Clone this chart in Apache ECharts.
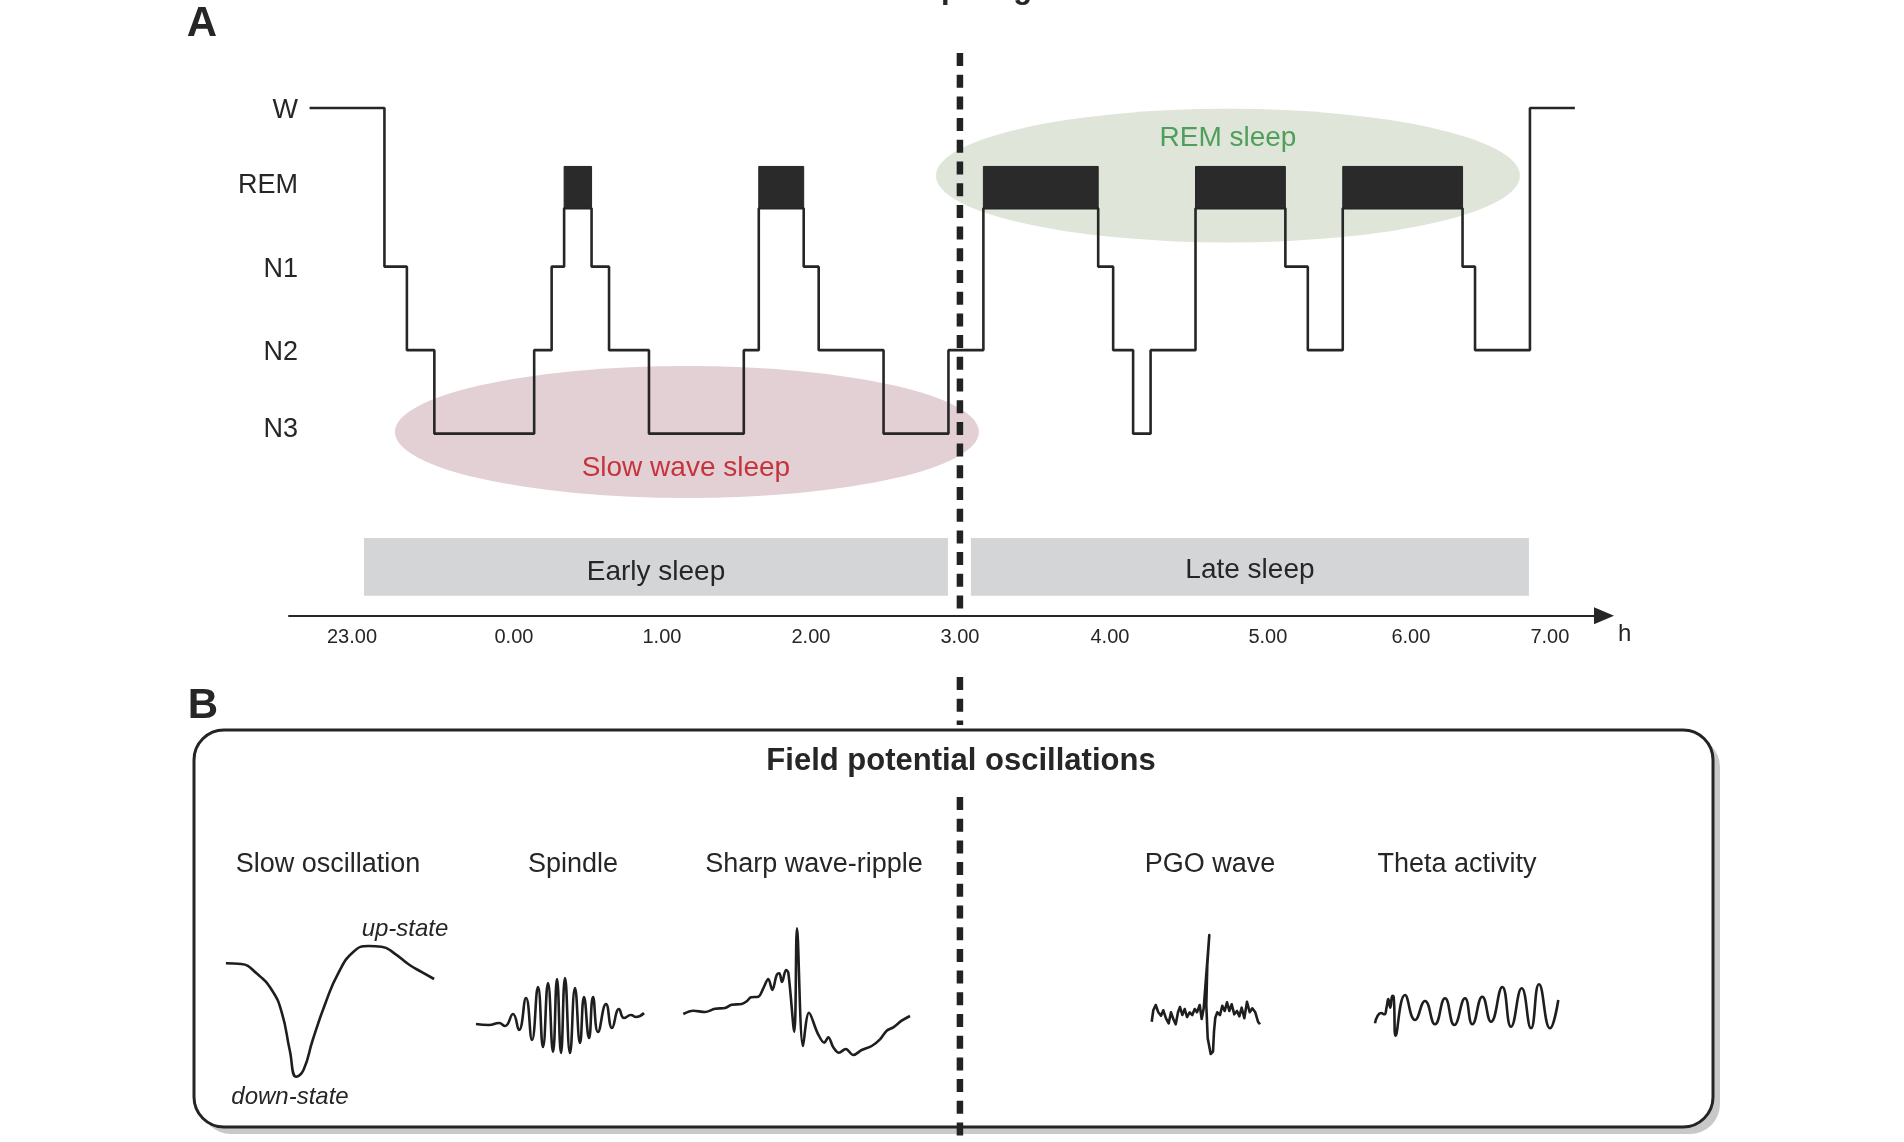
<!DOCTYPE html>
<html lang="en">
<head>
<meta charset="utf-8">
<title>Sleep stages</title>
<style>
  html, body { margin: 0; padding: 0; background: #fff; }
  #chart { width: 1904px; height: 1142px; }
</style>
</head>
<body>
<div id="chart"></div>
<script src="https://cdn.jsdelivr.net/npm/echarts@6.0.0/dist/echarts.min.js"></script>
<script>
// time axis, minutes after 23.00 (tick spacing as drawn in the figure)
var tickPos = [0, 64.9, 124.2, 183.9, 243.6, 303.7, 367.0, 424.3, 480];
var tickLabels = ['23.00', '0.00', '1.00', '2.00', '3.00', '4.00', '5.00', '6.00', '7.00'];

// stages, depth grows downwards
var stageNames = ['W', 'REM', 'N1', 'N2', 'N3'];
var stageLabelPos = [0.03, 0.93, 1.94, 2.93, 3.85];
var stageDepth = { W: 0, REM: 1.2, N1: 1.9, N2: 2.9, N3: 3.9 };
var remTop = 0.7;

// hypnogram: [stage, start minute]
var hypno = [
    ['W', -17], ['N1', 13], ['N2', 22], ['N3', 33], ['N2', 73], ['N1', 80], ['REM', 85],
    ['N1', 96], ['N2', 103], ['N3', 119], ['N2', 157], ['REM', 163], ['N1', 181], ['N2', 187],
    ['N3', 213], ['N2', 239], ['REM', 253], ['N1', 299], ['N2', 305], ['N3', 313], ['N2', 320],
    ['REM', 338], ['N1', 374], ['N2', 383], ['REM', 397], ['N1', 445], ['N2', 450], ['W', 472]
];
var hypnoEnd = 490;

// shaded zones (ellipses): centre [min, depth], radius [min, depth]
var zoneNames = ['Slow wave sleep', 'REM sleep'];
var zoneCenter = [[134.2, 3.88], [351.0, 0.81]];
var zoneRadius = [[117, 0.79], [117, 0.80]];
var zoneTextPos = [[133.8, 4.32], [351.0, 0.36]];

// early / late sleep bars: [name, from, to]
var periods = [['Early sleep', 4.8, 238.8], ['Late sleep', 248.0, 471.6]];
var periodDepth = [5.15, 5.84];

// vertical dashed line at 3.00, page pixels of its pieces
var dashAt = 243.6;
var dashPieces = [[53, 615], [677, 725], [797, 1142]];

// field potential traces, [x, y] (y downwards)
var slowWave = [[5.9, 23.3], [21.2, 24], [36.5, 33.3], [51.8, 50], [62, 73.3], [69.7, 110], [76.3, 136.7],
    [83.5, 130], [92.7, 100], [105.4, 63.3], [118.2, 33.3], [133.5, 11.7], [148.8, 6], [161.5, 6.7],
    [174.3, 13.3], [189.6, 25], [202.3, 32.3], [214.1, 39]];
var spindleWave = [[6, 54], [19, 55], [29, 53], [35, 56], [43, 44], [49, 60], [56, 28], [62, 70], [68, 17],
    [73, 77], [78, 13], [83, 82], [87, 9], [91, 83], [95, 8], [100, 83], [105, 18], [110, 73], [114, 27],
    [119, 68], [123, 27], [128, 62], [136, 34], [142, 58], [149, 39], [154, 48], [161, 45], [166, 47], [174, 43]];
var rippleWave = [[8.3, 94], [18.3, 90.7], [30, 92], [40, 88.7], [50, 88], [56.7, 84.7], [66.7, 84], [71.7, 81.3],
    [76, 77.3], [83.3, 76.7], [88.3, 68.3], [93.3, 59], [97.3, 70], [101.7, 55], [104.3, 53.3], [107, 62],
    [111, 50], [113.3, 52.7], [119.3, 111.7], [122, 8.3], [128, 126], [134, 92.7], [142.7, 113.3],
    [149.3, 122.7], [153.3, 117.3], [158.3, 127.3], [164, 132.7], [170.7, 129], [178.3, 135], [186.7, 130],
    [196.7, 126], [205, 119.3], [211.7, 110.7], [218.3, 107.3], [226.7, 100.7], [235, 96]];
var pgoWave = [[11.7, 96.7], [13.3, 85.3], [15.7, 80], [18.3, 87.3], [21, 90.7], [23.3, 85.3], [26, 93.3],
    [28.7, 98.3], [31, 87.3], [33.3, 94], [35.7, 99.3], [38, 87.3], [40, 82], [42.3, 90], [44.7, 84], [47, 92],
    [49.7, 87.3], [52.3, 90], [54.7, 84], [57, 87.3], [59.7, 80], [61.7, 94], [63.7, 83.3], [69.3, 10],
    [67.3, 40], [66.3, 80], [67.7, 113.3], [70.7, 129], [73, 126.7], [74, 106.7], [75.3, 92.7], [77.3, 87.3],
    [80, 90], [82.3, 80.7], [84.7, 86], [87, 77.3], [89.3, 86], [91.7, 79.3], [94.3, 89.3], [97, 86],
    [99.3, 91.3], [101.7, 82.7], [104.3, 93.3], [107, 76.7], [109.7, 87.3], [112.3, 83.3], [115.3, 87.3],
    [118, 96.7], [120, 99.3]];
var thetaWave = [[10, 48.3], [12.7, 40.7], [16, 38], [19.3, 39.3], [21.7, 31.7], [23.3, 24], [25.3, 32.7],
    [27.3, 20.7], [28.7, 22], [30.7, 60.7], [40, 20], [50, 45], [60, 26], [70, 49.3], [80, 23.3], [89.3, 50],
    [100, 23.3], [107.3, 49.3], [117.3, 21.7], [126, 46.7], [137.3, 12], [146, 51.7], [156.7, 13.3],
    [166, 53.3], [174, 9.3], [185, 53.3], [193.3, 25]];

var waveNames = ['Slow oscillation', 'Spindle', 'Sharp wave-ripple', 'PGO wave', 'Theta activity'];
var waves = [slowWave, spindleWave, rippleWave, pgoWave, thetaWave];
var waveBox = [[220, 940, 220, 145], [470, 970, 180, 90], [675, 920, 245, 145], [1140, 925, 130, 140], [1365, 975, 200, 70]];
var waveSmooth = [0.5, 0.5, 0.35, false, 0.5];
var waveTitleX = [328, 573, 814, 1210, 1457];

var FONT = '"Liberation Sans", Arial, Helvetica, sans-serif';
var INK = '#262626';

// hypnogram corner points and REM blocks
var hypnoLine = [];
var remBlocks = [];
for (var i = 0; i < hypno.length; i++) {
    var t0 = hypno[i][1];
    var t1 = i + 1 < hypno.length ? hypno[i + 1][1] : hypnoEnd;
    var d = stageDepth[hypno[i][0]];
    hypnoLine.push([t0, d], [t1, d]);
    if (hypno[i][0] === 'REM') remBlocks.push([t0, t1]);
}

function nearestLabel(list, labels, v) {
    var best = 0;
    for (var k = 1; k < list.length; k++) {
        if (Math.abs(list[k] - v) < Math.abs(list[best] - v)) best = k;
    }
    return labels[best];
}

var chart = echarts.init(document.getElementById('chart'));

var grids = [
    { left: 289, top: 49.55, width: 1315, height: 566.13 },
    { left: 289, top: 0, width: 1315, height: 1142 }
];
var xAxes = [
    {
        gridIndex: 0, type: 'value', min: -25.24, max: 501.68,
        splitLine: { show: false }, axisTick: { show: false },
        axisLine: { show: true, onZero: false, symbol: ['none', 'triangle'], symbolSize: [17, 20],
            lineStyle: { color: INK, width: 2 } },
        axisLabel: { customValues: tickPos, margin: 12, color: INK, fontSize: 20, fontFamily: FONT,
            formatter: function (v) { return nearestLabel(tickPos, tickLabels, v); } },
        name: 'h', nameLocation: 'end', nameGap: 14,
        nameTextStyle: { color: INK, fontSize: 24, fontFamily: FONT, verticalAlign: 'top', padding: [7, 0, 0, 0] }
    },
    { gridIndex: 1, type: 'value', min: -25.24, max: 501.68, show: false }
];
var yAxes = [
    {
        gridIndex: 0, type: 'value', inverse: true, min: -0.7, max: 6.08,
        axisLine: { show: false }, axisTick: { show: false }, splitLine: { show: false },
        axisLabel: { customValues: stageLabelPos, margin: -9, color: INK, fontSize: 27, fontFamily: FONT,
            formatter: function (v) { return nearestLabel(stageLabelPos, stageNames, v); } }
    },
    { gridIndex: 1, type: 'value', inverse: true, min: 0, max: 1142, show: false }
];

var series = [
    {
        type: 'custom', xAxisIndex: 0, yAxisIndex: 0, z: 1, silent: true,
        data: zoneCenter.map(function (c, k) { return [c[0], c[1], zoneRadius[k][0], zoneRadius[k][1]]; }),
        renderItem: function (params, api) {
            var c = api.coord([api.value(0), api.value(1)]);
            var s = api.size([api.value(2), api.value(3)]);
            return {
                type: 'circle', x: c[0], y: c[1], scaleY: s[1] / s[0],
                shape: { cx: 0, cy: 0, r: s[0] },
                style: { fill: params.dataIndex === 0 ? '#e2d0d4' : '#dfe5d8' }
            };
        }
    },
    {
        type: 'custom', xAxisIndex: 0, yAxisIndex: 0, z: 1, silent: true,
        data: periods.map(function (p) { return [p[1], p[2]]; }),
        renderItem: function (params, api) {
            var a = api.coord([api.value(0), periodDepth[0]]);
            var b = api.coord([api.value(1), periodDepth[1]]);
            return {
                type: 'group', children: [
                    { type: 'rect', shape: { x: a[0], y: a[1], width: b[0] - a[0], height: b[1] - a[1] },
                        style: { fill: '#d4d5d6' } },
                    { type: 'text', x: (a[0] + b[0]) / 2, y: (a[1] + b[1]) / 2 + (params.dataIndex === 0 ? 5 : 3),
                        style: { text: periods[params.dataIndex][0], fill: INK, fontSize: 28, fontFamily: FONT,
                            align: 'center', verticalAlign: 'middle' } }
                ]
            };
        }
    },
    {
        type: 'line', xAxisIndex: 0, yAxisIndex: 0, z: 3, data: hypnoLine,
        showSymbol: false, silent: true, lineStyle: { color: INK, width: 2.6 }
    },
    {
        type: 'custom', xAxisIndex: 0, yAxisIndex: 0, z: 4, silent: true, data: remBlocks,
        renderItem: function (params, api) {
            var a = api.coord([api.value(0), remTop]);
            var b = api.coord([api.value(1), stageDepth.REM]);
            return { type: 'rect', shape: { x: a[0], y: a[1], width: b[0] - a[0], height: b[1] - a[1] },
                style: { fill: '#2a2a2a', stroke: INK, lineWidth: 1 } };
        }
    },
    {
        type: 'custom', xAxisIndex: 0, yAxisIndex: 0, z: 5, silent: true, data: zoneTextPos,
        renderItem: function (params, api) {
            var c = api.coord([api.value(0), api.value(1)]);
            return { type: 'text', x: c[0], y: c[1],
                style: { text: zoneNames[params.dataIndex], fill: params.dataIndex === 0 ? '#c5343c' : '#4f9f5c',
                    fontSize: 28, fontFamily: FONT, align: 'center', verticalAlign: 'middle' } };
        }
    },
    {
        type: 'custom', xAxisIndex: 1, yAxisIndex: 1, z: 6, silent: true,
        data: dashPieces.map(function (p) { return [dashAt, p[0], p[1]]; }),
        encode: { x: 0, y: [1, 2] },
        renderItem: function (params, api) {
            var a = api.coord([api.value(0), api.value(1)]);
            var b = api.coord([api.value(0), api.value(2)]);
            return { type: 'line', shape: { x1: a[0], y1: a[1], x2: b[0], y2: b[1] },
                style: { stroke: '#222', lineWidth: 6.5, lineDash: [13, 8.7] } };
        }
    }
];

waves.forEach(function (w, k) {
    var box = waveBox[k];
    var gi = grids.length;
    grids.push({ left: box[0], top: box[1], width: box[2], height: box[3] });
    xAxes.push({ gridIndex: gi, type: 'value', min: 0, max: box[2], show: false });
    yAxes.push({ gridIndex: gi, type: 'value', min: 0, max: box[3], inverse: true, show: false });
    series.push({
        type: 'line', xAxisIndex: gi, yAxisIndex: gi, z: 6, data: w, showSymbol: false, silent: true,
        smooth: waveSmooth[k], clip: false,
        lineStyle: { color: '#1e1e1e', width: 2.6, join: 'round' }
    });
});

function label(text, x, y, size, opts) {
    opts = opts || {};
    return {
        type: 'text', z: 100, x: x, y: y, silent: true,
        style: {
            text: text, fill: opts.color || INK,
            font: (opts.italic ? 'italic ' : '') + (opts.bold ? 'bold ' : '') + size + 'px ' + FONT,
            textAlign: 'center', textVerticalAlign: 'middle', align: 'center', verticalAlign: 'middle'
        }
    };
}

var graphics = [
    { type: 'rect', z: 0, silent: true, shape: { x: 201, y: 737, width: 1519, height: 397, r: 30 },
        style: { fill: '#c8c8c8' } },
    { type: 'rect', z: 0, silent: true, shape: { x: 194, y: 730, width: 1519, height: 397, r: 30 },
        style: { fill: '#fff', stroke: '#242424', lineWidth: 3 } },
    label('Sleep stages', 972, -11, 31, { bold: true }),
    label('A', 202, 24, 42, { bold: true }),
    label('B', 203, 706, 42, { bold: true }),
    label('Field potential oscillations', 961, 761, 31, { bold: true }),
    label('up-state', 405, 929, 24, { italic: true }),
    label('down-state', 290, 1097, 24, { italic: true })
];
waveNames.forEach(function (n, k) { graphics.push(label(n, waveTitleX[k], 865, 27)); });

chart.setOption({
    animation: false,
    backgroundColor: '#fff',
    grid: grids,
    xAxis: xAxes,
    yAxis: yAxes,
    series: series,
    graphic: { elements: graphics }
});
</script>
</body>
</html>
